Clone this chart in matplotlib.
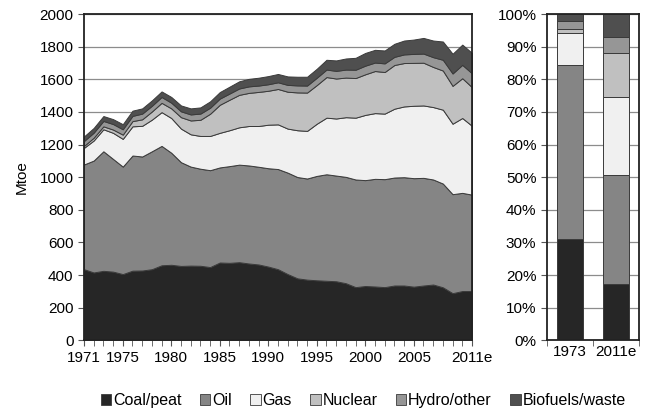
import numpy as np
import matplotlib
matplotlib.use('Agg')
import matplotlib.pyplot as plt

plt.rcParams['font.family'] = ['Liberation Sans', 'DejaVu Sans']

# 数据（Mtoe），1971-2011
years = list(range(1971, 2012))
coal = [436, 416, 426, 421, 406, 427, 428, 436, 460, 463,
        456, 458, 457, 449, 477, 475, 479, 471, 465, 452,
        436, 406, 380, 372, 368, 365, 362, 350, 326, 333,
        330, 326, 336, 336, 329, 336, 342, 325, 289, 302, 302]
oil = [642, 686, 733, 691, 659, 706, 699, 723, 732, 687,
       636, 607, 595, 594, 583, 593, 598, 601, 599, 603,
       614, 622, 621, 620, 640, 653, 648, 652, 660, 649,
       660, 662, 662, 664, 665, 660, 644, 636, 607, 602, 591]
gas = [102, 123, 135, 160, 170, 179, 188, 194, 207, 213,
       206, 198, 201, 210, 212, 220, 229, 242, 250, 267,
       274, 270, 287, 292, 320, 347, 350, 366, 379, 400,
       403, 402, 422, 434, 444, 444, 444, 453, 432, 459, 422]
nuclear = [12, 17, 18, 20, 26, 32, 40, 50, 57, 59,
           70, 85, 99, 136, 172, 187, 199, 203, 209, 208,
           217, 226, 232, 235, 237, 249, 245, 243, 243, 249,
           258, 255, 268, 266, 263, 262, 246, 240, 232, 244, 237]
hydro = [30, 31, 33, 34, 33, 32, 35, 35, 36, 35,
         36, 37, 38, 37, 38, 38, 39, 40, 39, 40,
         41, 42, 43, 43, 45, 46, 47, 49, 51, 53,
         52, 53, 50, 53, 55, 56, 60, 66, 76, 82, 85]
biofuels = [28, 29, 30, 30, 31, 32, 32, 33, 34, 35,
            36, 37, 38, 39, 40, 42, 44, 46, 48, 50,
            51, 52, 53, 54, 55, 60, 64, 68, 73, 78,
            78, 79, 80, 85, 88, 96, 102, 112, 121, 124, 125]

labels = ['Coal/peat', 'Oil', 'Gas', 'Nuclear', 'Hydro/other', 'Biofuels/waste']
colors = ['#262626', '#858585', '#f0f0f0', '#c0c0c0', '#969696', '#4f4f4f']
tick_years = [1971, 1975, 1980, 1985, 1990, 1995, 2000, 2005, 2011]
tick_labels = ['1971', '1975', '1980', '1985', '1990', '1995', '2000', '2005', '2011e']
bar_years = [1973, 2011]
bar_labels = ['1973', '2011e']

series = np.array([coal, oil, gas, nuclear, hydro, biofuels], dtype=float)

fig = plt.figure(figsize=(6.51, 4.15), dpi=100)
ax = fig.add_axes([0.129, 0.180, 0.596, 0.786])
ax2 = fig.add_axes([0.840, 0.180, 0.142, 0.786])

# 堆叠面积图
ax.stackplot(years, series, colors=colors, edgecolor='#3a3a3a', linewidth=0.7, zorder=3)
ax.set_xlim(1971, 2011)
ax.set_ylim(0, 2000)
ax.set_yticks(range(0, 2001, 200))
ax.set_xticks(tick_years)
ax.set_xticklabels(tick_labels)
ax.set_xticks(years, minor=True)
ax.yaxis.grid(True, color='#8c8c8c', linewidth=0.9, zorder=0)
ax.set_axisbelow(True)
ax.set_ylabel('Mtoe', fontsize=11, labelpad=8)
ax.tick_params(axis='both', labelsize=11, direction='out', length=4, color='#555555')
ax.tick_params(axis='x', which='minor', length=4, color='#555555')
for s in ax.spines.values():
    s.set_color('#222222')
    s.set_linewidth(1.3)
    s.set_zorder(5)

# 百分比柱状图
idx = [years.index(y) for y in bar_years]
shares = series[:, idx] / series[:, idx].sum(axis=0) * 100
bottom = np.zeros(len(bar_years))
xpos = np.arange(len(bar_years))
for i in range(len(labels)):
    ax2.bar(xpos, shares[i], 0.56, bottom=bottom, color=colors[i],
            edgecolor='#3a3a3a', linewidth=0.7, zorder=3)
    bottom += shares[i]
ax2.set_xlim(-0.5, 1.5)
ax2.set_ylim(0, 100)
ax2.set_yticks(range(0, 101, 10))
ax2.set_yticklabels([f'{v}%' for v in range(0, 101, 10)])
ax2.set_xticks(xpos)
ax2.set_xticklabels(bar_labels)
ax2.set_xticks([-0.5, 0.5, 1.5], minor=True)
ax2.yaxis.grid(True, color='#8c8c8c', linewidth=0.9, zorder=0)
ax2.set_axisbelow(True)
ax2.tick_params(axis='both', labelsize=11, direction='out', length=4, color='#555555')
ax2.tick_params(axis='x', which='major', length=0)
ax2.tick_params(axis='x', which='minor', length=4, color='#555555')
for s in ax2.spines.values():
    s.set_color('#222222')
    s.set_linewidth(1.3)
    s.set_zorder(5)

# 图例
handles = [plt.Rectangle((0, 0), 1, 1, facecolor=c, edgecolor='#3a3a3a', linewidth=0.6)
           for c in colors]
fig.legend(handles, labels, loc='center', bbox_to_anchor=(0.558, 0.034), ncol=6,
           frameon=False, fontsize=11.5, handlelength=0.65, handleheight=0.65,
           handletextpad=0.12, columnspacing=1.15, borderaxespad=0)

fig.savefig('out.png', dpi=100)
